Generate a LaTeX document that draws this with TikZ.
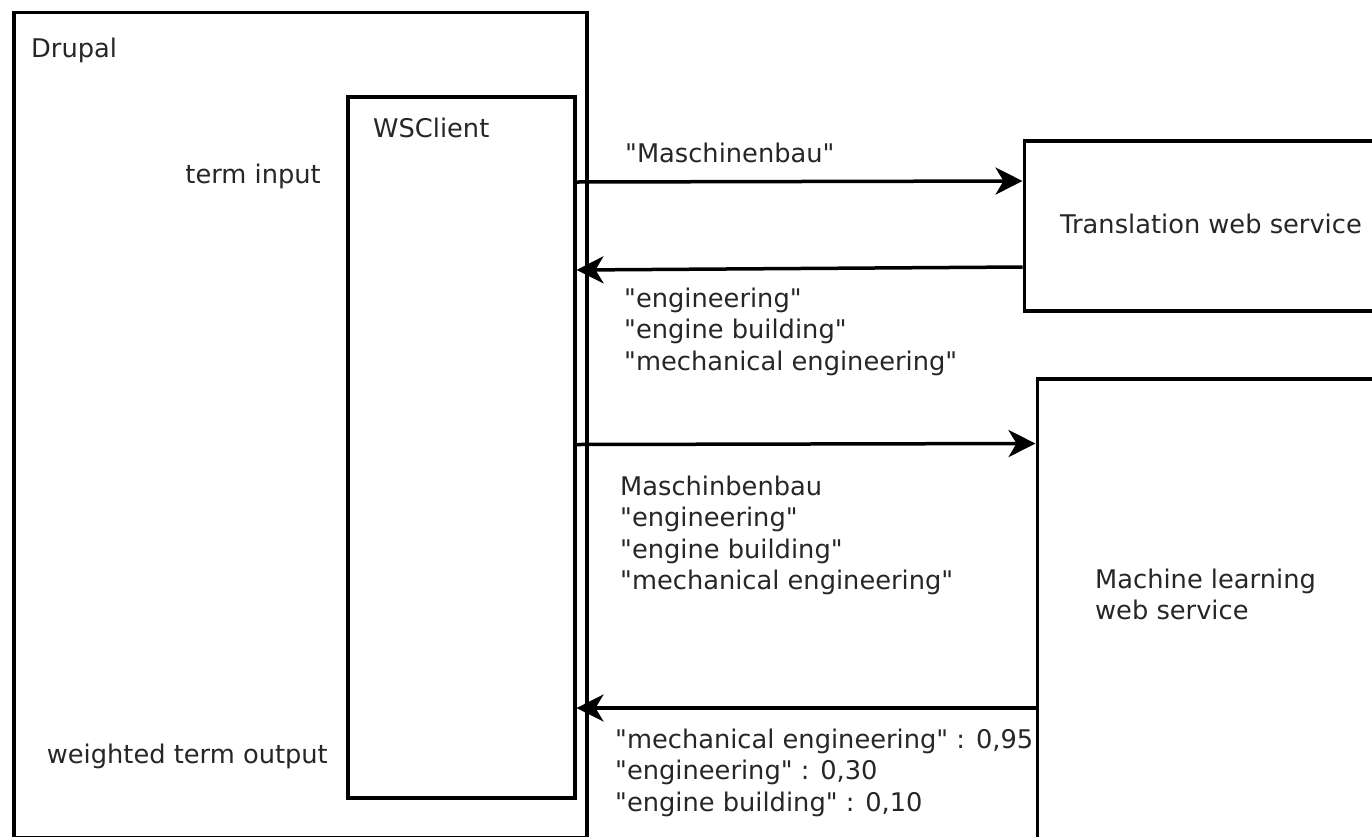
\documentclass[tikz,border=0pt]{standalone}
\usepackage{fontspec}
\setmainfont{DejaVu Sans}
\usetikzlibrary{arrows.meta}
\newcommand{\qd}{\textquotedbl}
\begin{document}
\begin{tikzpicture}[x=1pt,y=-1pt,
  box/.style={draw=black, line width=3.5pt, rectangle, inner sep=0pt, anchor=north west},
  lbl/.style={text=black!85, inner sep=0pt, anchor=base west, align=left, font=\fontsize{25.7}{31.5}\selectfont},
  arr/.style={line width=3.5pt, -{Stealth[length=27pt,width=27pt,inset=8pt]}}]
\useasboundingbox (0,0) rectangle (1372,836);
\clip (0,0) rectangle (1372,836);
% boxes
\node[box, minimum width=573pt, minimum height=825pt] (drupal) at (12,10.5) {};
\node[box, minimum width=227pt, minimum height=701pt] (ws) at (346,95) {};
\node[box, minimum width=400pt, minimum height=170pt] (trans) at (1022.5,139) {};
\node[box, minimum width=400pt, minimum height=560pt] (ml) at (1035.5,377) {};
% labels (multi-line nodes: base = last line)
\node[lbl] (ldrupal) at (31,57) {Drupal};
\node[lbl] (lws) at (373,137) {WSClient};
\node[lbl, anchor=base east] (lin) at (321,183) {term input};
\node[lbl, anchor=base east] (lout) at (328,763) {weighted term output};
\node[lbl] (ltrans) at (1060,233) {Translation web service};
\node[lbl] (lml) at (1095,619.5) {Machine learning\\web service};
\node[lbl] (m1) at (625,162) {\qd Maschinenbau\qd};
\node[lbl] (m2) at (624,370) {\qd engineering\qd\\\qd engine building\qd\\\qd mechanical engineering\qd};
\node[lbl] (m3) at (620,589.5) {Maschinbenbau\\\qd engineering\qd\\\qd engine building\qd\\\qd mechanical engineering\qd};
\node[lbl] (m4) at (615,811) {\qd mechanical engineering\qd{} : 0,95\\\qd engineering\qd{} : 0,30\\\qd engine building\qd{} : 0,10};
% arrow levels
\coordinate (y1) at (0,182);
\coordinate (y1b) at (0,181);
\coordinate (y2a) at (0,267);
\coordinate (y2b) at (0,270);
\coordinate (y3a) at (0,444.5);
\coordinate (y3b) at (0,443.5);
\coordinate (y4) at (0,708);
\draw[arr] (ws.east |- y1) -- (trans.west |- y1b);
\draw[arr] (trans.west |- y2a) -- (ws.east |- y2b);
\draw[arr] (ws.east |- y3a) -- (ml.west |- y3b);
\draw[arr] (ml.west |- y4) -- (ws.east |- y4);
\end{tikzpicture}
\end{document}
